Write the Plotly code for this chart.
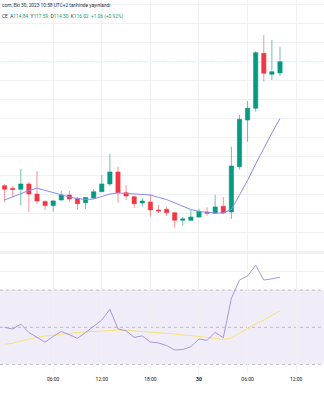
import plotly.graph_objects as go
from plotly.subplots import make_subplots
import pandas as pd

# hourly candles, Oct 29 00:00 -> Oct 30 10:00
times = pd.date_range("2023-10-29 00:00", "2023-10-30 10:00", freq="h")

open_ = [102.97, 102.68, 102.59, 103.15, 102.09, 101.29, 100.87, 101.46, 101.99, 101.60,
         101.18, 101.67, 102.33, 103.15, 104.41, 102.23, 101.81, 101.15, 101.25, 100.41,
         100.48, 100.12, 99.33, 99.33, 99.67, 100.20, 100.06, 100.80, 100.20, 104.97,
         109.88, 111.12, 116.90, 114.70, 114.84]
high = [103.13, 102.93, 104.72, 103.39, 104.52, 101.46, 101.46, 102.41, 102.41, 101.78,
        101.78, 102.62, 104.10, 106.31, 104.97, 103.04, 101.88, 101.67, 102.09, 100.93,
        100.76, 100.20, 99.70, 100.41, 100.51, 100.69, 101.99, 101.78, 107.07, 110.41,
        111.88, 117.15, 118.83, 118.30, 117.59]
low = [101.25, 101.78, 100.93, 100.20, 101.04, 100.41, 100.23, 101.41, 101.25, 100.41,
       100.51, 101.57, 102.30, 102.93, 101.18, 101.46, 100.62, 100.76, 99.70, 100.09,
       99.78, 98.58, 98.76, 99.25, 99.60, 99.81, 100.04, 100.04, 99.47, 104.69,
       107.60, 110.75, 113.92, 114.09, 114.50]
close = [102.59, 102.57, 103.15, 102.09, 101.36, 100.87, 101.36, 101.99, 101.57, 101.07,
         101.71, 102.33, 103.15, 104.41, 102.23, 101.88, 101.07, 101.36, 100.41, 100.31,
         100.12, 99.33, 99.47, 99.67, 100.27, 100.06, 100.73, 100.09, 105.04, 109.96,
         111.12, 116.97, 114.80, 114.96, 116.02]
ma = [101.46, 101.78, 102.15, 102.46, 102.70, 102.46, 102.20, 101.99, 101.78, 101.62,
      101.51, 101.57, 101.81, 102.09, 102.20, 102.15, 102.09, 102.04, 101.99, 101.73,
      101.51, 101.15, 100.78, 100.46, 100.25, 100.14, 100.09, 100.09, 100.46, 101.99,
      103.52, 105.25, 106.94, 108.51, 110.04]
rsi = [49.9, 49.1, 51.7, 47.2, 44.6, 42.0, 45.1, 47.8, 46.0, 44.1,
       47.2, 50.4, 53.9, 59.7, 49.2, 48.1, 44.6, 45.4, 42.1, 41.6,
       40.2, 37.8, 38.1, 39.6, 43.7, 43.0, 47.3, 44.4, 65.6, 75.4,
       77.6, 83.3, 75.4, 76.0, 76.9]
rsi_ma = [40.9, 41.4, 42.6, 43.7, 44.6, 45.3, 45.9, 46.2, 46.7, 47.2,
          47.5, 47.7, 48.0, 48.3, 48.5, 48.4, 48.1, 47.9, 47.6, 47.4,
          46.9, 46.4, 45.9, 45.3, 45.1, 44.6, 44.1, 43.5, 44.2, 46.7,
          49.5, 51.8, 53.9, 56.3, 58.8]
rsi_levels = [70, 50, 30]

tick_vals = ["2023-10-29 06:00", "2023-10-29 12:00", "2023-10-29 18:00",
             "2023-10-30 00:00", "2023-10-30 06:00", "2023-10-30 12:00"]
tick_text = ["06:00", "12:00", "18:00", "<b>30</b>", "06:00", "12:00"]

header1 = "com, Eki 30, 2023 10:58 UTC+2 tarihinde yayınlandı"
ohlc_labels = ["A", "Y", "D", "K"]
ohlc_vals = ["114.84", "117.59", "114.50", "116.02"]
change_txt = "+1.06 (+0.92%)"

UP = "#089981"
DOWN = "#f23645"
GRID = "#f0f1f4"

fig = make_subplots(rows=2, cols=1, shared_xaxes=True, vertical_spacing=0,
                    row_heights=[253, 119])

fig.add_trace(go.Candlestick(
    x=times, open=open_, high=high, low=low, close=close,
    increasing=dict(line=dict(color="rgba(8,153,129,0.6)", width=1), fillcolor=UP),
    decreasing=dict(line=dict(color="rgba(242,54,69,0.55)", width=1), fillcolor=DOWN),
    whiskerwidth=0, showlegend=False, hoverinfo="skip"), row=1, col=1)

fig.add_trace(go.Scatter(x=times, y=ma, mode="lines",
                         line=dict(color="#8a8af4", width=1),
                         showlegend=False, hoverinfo="skip"), row=1, col=1)

shapes = []
# last price line
shapes.append(dict(type="line", xref="x domain", yref="y", x0=0, x1=1,
                   y0=close[-1], y1=close[-1], layer="below",
                   line=dict(color="rgba(8,153,129,0.4)", width=1, dash="dot")))
# RSI band and levels
shapes.append(dict(type="rect", xref="x2 domain", yref="y2", x0=0, x1=1,
                   y0=rsi_levels[2], y1=rsi_levels[0], layer="below",
                   fillcolor="rgba(126,87,194,0.11)", line=dict(width=0)))
for lvl in rsi_levels:
    shapes.append(dict(type="line", xref="x2 domain", yref="y2", x0=0, x1=1,
                       y0=lvl, y1=lvl, layer="below",
                       line=dict(color="rgba(120,123,134,0.45)", width=1, dash="3px,3px")))
# pane separator
shapes.append(dict(type="line", xref="paper", yref="paper", x0=0, x1=1,
                   y0=119 / 372, y1=119 / 372, line=dict(color="#e0e3eb", width=1)))

fig.add_trace(go.Scatter(x=times, y=rsi_ma, mode="lines",
                         line=dict(color="#f6e27c", width=1),
                         showlegend=False, hoverinfo="skip"), row=2, col=1)
fig.add_trace(go.Scatter(x=times, y=rsi, mode="lines",
                         line=dict(color="#a995de", width=1),
                         showlegend=False, hoverinfo="skip"), row=2, col=1)

xr = ["2023-10-28 23:26", "2023-10-30 15:26"]
fig.update_xaxes(range=xr, showgrid=True, gridcolor=GRID, gridwidth=1,
                 tickvals=tick_vals, ticktext=tick_text, zeroline=False,
                 showline=False, rangeslider_visible=False, fixedrange=True)
fig.update_xaxes(showticklabels=False, row=1, col=1)
fig.update_xaxes(showticklabels=True, tickfont=dict(size=5, color="#131722",
                 family="Roboto"), ticks="", ticklabelstandoff=3, row=2, col=1)

fig.update_yaxes(range=[95.88, 122.515], dtick=2, tick0=0, showgrid=True,
                 gridcolor=GRID, showticklabels=False, zeroline=False,
                 row=1, col=1)
fig.update_yaxes(range=[26.0, 89.9], tickvals=[80], showgrid=True, gridcolor=GRID,
                 showticklabels=False, zeroline=False, row=2, col=1)

ohlc_html = "CE  " + "  ".join(
    f"{l}<span style='color:{UP}'>{v}</span>" for l, v in zip(ohlc_labels, ohlc_vals)
) + f"  <span style='color:{UP}'>{change_txt}</span>"

annotations = [
    dict(text=header1, xref="paper", yref="paper", x=0, y=(372 - 6) / 372,
         xanchor="left", yanchor="middle", showarrow=False,
         font=dict(size=4.8, color="#2a2e39", family="Roboto")),
    dict(text=ohlc_html, xref="paper", yref="paper", x=0, y=(372 - 16.7) / 372,
         xanchor="left", yanchor="middle", showarrow=False,
         font=dict(size=4.8, color="#2a2e39", family="Roboto")),
]

fig.update_layout(width=324, height=400, margin=dict(l=0, r=0, t=0, b=28),
                  paper_bgcolor="white", plot_bgcolor="white", boxgap=0.25,
                  hovermode=False, shapes=shapes, annotations=annotations)

fig.write_html("out.html", config={"displayModeBar": False})
